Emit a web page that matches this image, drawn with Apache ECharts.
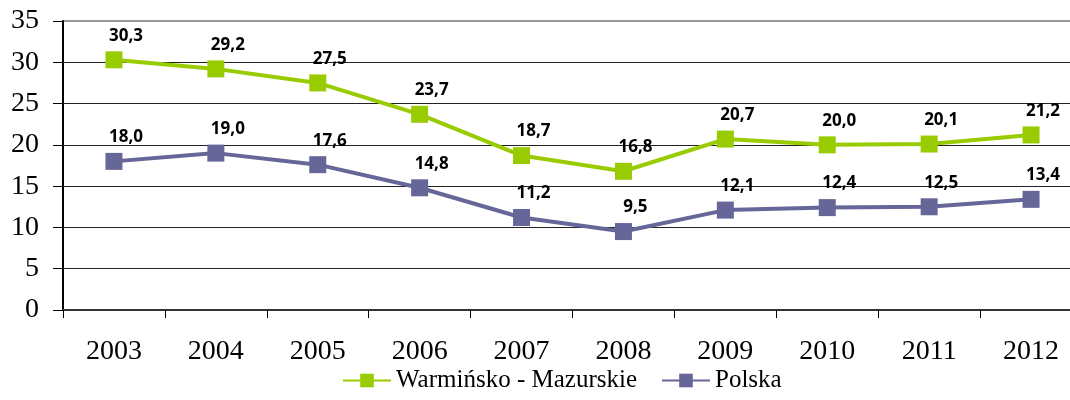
<!DOCTYPE html>
<html>
<head>
    <meta charset="utf-8">
    <script src="https://cdn.jsdelivr.net/npm/echarts@6/dist/echarts.min.js"></script>
    <style>
        html, body { margin: 0; padding: 0; background: #fff; }
        #chart { width: 1070px; height: 400px; }
    </style>
</head>
<body>
    <div id="chart"></div>
<script type="text/javascript">
    var years = ["2003", "2004", "2005", "2006", "2007", "2008", "2009", "2010", "2011", "2012"];
    var warmMaz = [30.3, 29.2, 27.5, 23.7, 18.7, 16.8, 20.7, 20.0, 20.1, 21.2];
    var polska = [18.0, 19.0, 17.6, 14.8, 11.2, 9.5, 12.1, 12.4, 12.5, 13.4];

    var serif = "'Liberation Serif', 'DejaVu Serif', serif";

    function fmt(p) {
        return p.value.toFixed(1).replace('.', ',');
    }

    function lineSeries(name, data, color) {
        return {
            name: name,
            type: "line",
            data: data,
            symbol: "rect",
            symbolSize: 17,
            itemStyle: { color: color },
            lineStyle: { color: color, width: 4 },
            label: {
                show: true,
                position: "top",
                offset: [12, -2],
                formatter: fmt,
                color: "#000",
                fontFamily: "'Open Sans', sans-serif",
                fontWeight: "bold",
                fontSize: 17
            },
            animation: false
        };
    }

    var myChart = echarts.init(document.getElementById('chart'));
    myChart.setOption({
        animation: false,
        textStyle: { fontFamily: serif },
        grid: {
            left: 63,
            right: -12,
            top: 21,
            bottom: 90,
            outerBoundsMode: "none",
            containLabel: false,
            show: true,
            borderColor: "#999",
            borderWidth: 2
        },
        legend: {
            bottom: 2,
            left: 337,
            itemGap: 24,
            itemWidth: 48,
            itemHeight: 17,
            textStyle: { fontFamily: serif, fontSize: 25, color: "#000", padding: [0, 45, 0, 0] },
            data: ["Warmińsko - Mazurskie", "Polska"]
        },
        xAxis: {
            type: "category",
            data: years,
            boundaryGap: true,
            axisLine: { lineStyle: { color: "#333", width: 2 } },
            axisTick: { show: true, length: 8, lineStyle: { color: "#000" } },
            axisLabel: { fontFamily: serif, fontSize: 28, color: "#000", margin: 28 }
        },
        yAxis: {
            type: "value",
            min: 0,
            max: 35,
            interval: 5,
            axisLine: { show: true, lineStyle: { color: "#000", width: 2 } },
            axisTick: { show: true, length: 10, lineStyle: { color: "#000" } },
            axisLabel: { fontFamily: serif, fontSize: 28, color: "#000", margin: 24 },
            splitLine: {
                lineStyle: {
                    color: ["#333", "#222", "#222", "#222", "#222", "#222", "#222", "#999"],
                    width: 1
                }
            }
        },
        series: [
            lineSeries("Warmińsko - Mazurskie", warmMaz, "#99cc00"),
            lineSeries("Polska", polska, "#666699")
        ]
    });
</script>
</body>
</html>
